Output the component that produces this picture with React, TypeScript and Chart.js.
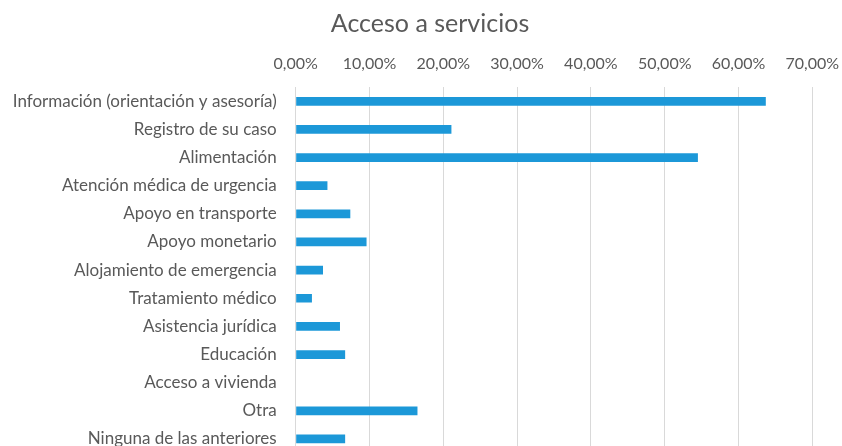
import React, { useEffect, useRef } from "react";
import { Chart, registerables } from "chart.js";

Chart.register(...registerables);

const titleText = "Acceso a servicios";
const categories = [
  "Información (orientación y asesoría)",
  "Registro de su caso",
  "Alimentación",
  "Atención médica de urgencia",
  "Apoyo en transporte",
  "Apoyo monetario",
  "Alojamiento de emergencia",
  "Tratamiento médico",
  "Asistencia jurídica",
  "Educación",
  "Acceso a vivienda",
  "Otra",
  "Ninguna de las anteriores",
];
const values = [63.7, 21.1, 54.5, 4.3, 7.4, 9.6, 3.7, 2.2, 6.0, 6.7, 0, 16.5, 6.7];
const axisMin = 0;
const axisMax = 70;
const axisStep = 10;

const TEXT = "#595959";
const FONT = "Lato, 'Open Sans', sans-serif";

export default function App() {
  const ref = useRef<HTMLCanvasElement | null>(null);
  useEffect(() => {
    if (!ref.current) return;
    const chart = new Chart(ref.current, {
      type: "bar",
      data: {
        labels: categories,
        datasets: [
          {
            data: values,
            backgroundColor: "#1C98D8",
            borderWidth: 0,
            categoryPercentage: 1,
            barPercentage: 0.31,
          },
        ],
      },
      options: {
        indexAxis: "y",
        animation: false,
        responsive: false,
        devicePixelRatio: 1,
        layout: { padding: { left: 0, right: -18, top: 9, bottom: 2 } },
        plugins: {
          legend: { display: false },
          tooltip: { enabled: false },
          title: {
            display: true,
            text: titleText,
            color: TEXT,
            font: { family: FONT, size: 25, weight: "normal" },
            padding: { top: 0, bottom: 1 },
          },
        },
        scales: {
          x: {
            position: "top",
            min: axisMin,
            max: axisMax,
            ticks: {
              stepSize: axisStep,
              color: TEXT,
              font: { family: FONT, size: 16 },
              padding: 14,
              callback: (v: any) => Number(v).toFixed(2).replace(".", ",") + "%",
            },
            grid: { color: "#D9D9D9", drawTicks: false, lineWidth: 1 },
            border: { display: false },
            afterFit: (scale: any) => {
              scale.paddingRight = 29.7;
            },
          },
          y: {
            grid: { display: false, drawTicks: false },
            border: { display: false },
            ticks: {
              color: TEXT,
              font: { family: FONT, size: 17 },
              padding: 19,
              autoSkip: false,
            },
            afterFit: (scale: any) => {
              scale.width = 295.7;
              scale.paddingTop = 0;
              scale.paddingBottom = 0;
            },
          },
        },
      },
    });
    return () => chart.destroy();
  }, []);
  return (
    <div
      style={{
        position: "absolute",
        left: 0,
        top: 0,
        width: 842,
        height: 446,
        overflow: "hidden",
        background: "#fff",
      }}
    >
      <canvas ref={ref} width={842} height={455} style={{ display: "block" }} />
    </div>
  );
}
